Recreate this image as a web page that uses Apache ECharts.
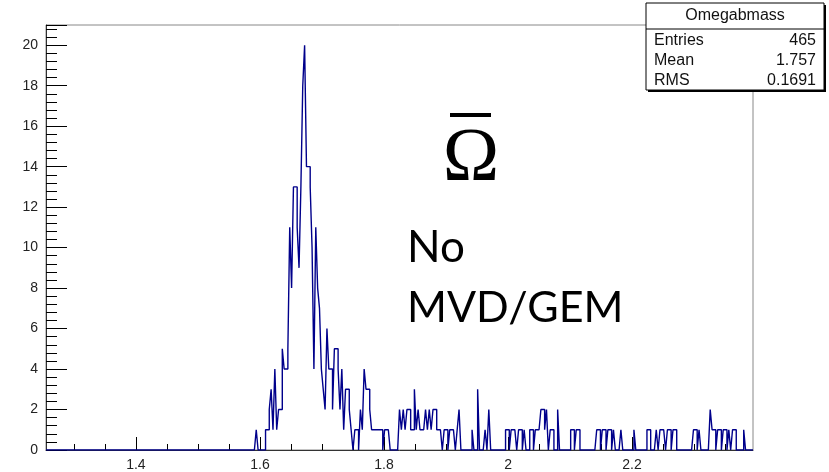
<!DOCTYPE html>
<html>
<head>
<meta charset="utf-8">
<script src="https://cdn.jsdelivr.net/npm/echarts@6/dist/echarts.min.js"></script>
<style>
  html, body { margin: 0; padding: 0; background: #fff; }
  #main { width: 829px; height: 472px; }
</style>
</head>
<body>
<div id="main"></div>
<script>
// Omegabar invariant mass histogram (bin centres in GeV, counts per bin)
var binCenters = [
  1.5955, 1.6105, 1.6135, 1.6165, 1.6195, 1.6225, 1.6255, 1.6285, 1.6315, 1.6345,
  1.6375, 1.6405, 1.6435, 1.6465, 1.6495, 1.6525, 1.6555, 1.6585, 1.6615, 1.6645,
  1.6675, 1.6705, 1.6735, 1.6765, 1.6795, 1.6825, 1.6855, 1.6885, 1.6915, 1.6945,
  1.6975, 1.7005, 1.7035, 1.7065, 1.7095, 1.7125, 1.7155, 1.7185, 1.7215, 1.7245,
  1.7275, 1.7305, 1.7335, 1.7365, 1.7395, 1.7425, 1.7455, 1.7485, 1.7545, 1.7575,
  1.7635, 1.7665, 1.7695, 1.7725, 1.7755, 1.7785, 1.7815, 1.7845, 1.7875, 1.7905,
  1.7935, 1.7965, 1.8025, 1.8055, 1.8085,
  1.8265, 1.8295, 1.8325, 1.8355, 1.8385, 1.8415, 1.8445, 1.8475, 1.8505, 1.8535,
  1.8565, 1.8595, 1.8625, 1.8655, 1.8685, 1.8715, 1.8745, 1.8775, 1.8805, 1.8835,
  1.8865, 1.8895, 1.8925, 1.8985, 1.9015, 1.9075, 1.9105, 1.9135, 1.9195, 1.9225,
  1.9435, 1.9525, 1.9645, 1.9705,
  1.9975, 2.0005, 2.0065, 2.0095, 2.0125, 2.0185, 2.0215, 2.0275,
  2.0365, 2.0395, 2.0455, 2.0485, 2.0515, 2.0545, 2.0575, 2.0605, 2.0635,
  2.0695, 2.0725, 2.0815, 2.1025, 2.1055, 2.1115, 2.1145,
  2.1445, 2.1475, 2.1535, 2.1565, 2.1625, 2.1655, 2.1715, 2.1835, 2.2045,
  2.2255, 2.2285, 2.2405, 2.2465, 2.2495, 2.2525, 2.2585, 2.2615, 2.2675, 2.2705,
  2.3005, 2.3035, 2.3095, 2.3275, 2.3305, 2.3335, 2.3395, 2.3425, 2.3485, 2.3515,
  2.3575, 2.3635, 2.3665, 2.3815
];
var binCounts = [
  1, 1, 1, 2, 3, 1, 4, 1, 2, 2,
  5, 4, 4, 5, 11, 8, 13, 13, 11, 9,
  13, 18, 20, 14, 14, 13, 10, 4, 11, 8,
  7, 4, 3, 2, 6, 4, 4, 2, 5, 5,
  4, 2, 4, 1, 3, 3, 2, 1, 1, 1,
  2, 1, 4, 3, 3, 2, 1, 1, 1, 1,
  1, 1, 1, 1, 1,
  2, 1, 2, 1, 2, 2, 1, 1, 3, 1,
  2, 1, 1, 1, 2, 1, 2, 1, 2, 2,
  1, 1, 1, 1, 1, 1, 1, 1, 1, 2,
  1, 3, 1, 2,
  1, 1, 1, 1, 1, 1, 1, 1,
  1, 1, 1, 1, 1, 2, 2, 1, 2,
  1, 1, 2, 1, 1, 1, 1,
  1, 1, 1, 1, 1, 1, 1, 1, 1,
  1, 1, 1, 1, 1, 1, 1, 1, 1, 1,
  1, 1, 1, 2, 1, 1, 1, 1, 1, 1,
  1, 1, 1, 1
];
var xLabelValues = [1.4, 1.6, 1.8, 2, 2.2];
var xMinorValues = [1.3, 1.35, 1.45, 1.5, 1.55, 1.65, 1.7, 1.75, 1.85, 1.9, 1.95,
                    2.05, 2.1, 2.15, 2.25, 2.3, 2.35];
var statTitle = 'Omegabmass';
var statNames = ['Entries', 'Mean', 'RMS'];
var statValues = ['465', '1.757', '0.1691'];

var xMin = 1.255, xMax = 2.395, binWidth = 0.003;
var nBins = Math.round((xMax - xMin) / binWidth);

// fill the bin grid, empty bins are zero
var filled = [];
for (var i = 0; i < nBins; i++) filled.push(0);
binCenters.forEach(function (c, j) {
  var k = Math.round((c - xMin) / binWidth - 0.5);
  filled[k] = binCounts[j];
});

// step outline like ROOT's histogram drawing
var outline = [[xMin, 0]];
for (var k = 0; k < nBins; k++) {
  var lo = xMin + k * binWidth;
  outline.push([lo, filled[k]], [lo + binWidth, filled[k]]);
}
outline.push([xMax, 0]);

var myChart = echarts.init(document.getElementById('main'));

var labelFont = { fontFamily: 'Liberation Sans', fontSize: 14, color: '#222' };

var statGraphics = [
  { type: 'rect', shape: { x: 648, y: 5, width: 178, height: 87 }, style: { fill: '#000' }, z: 100 },
  { type: 'rect', shape: { x: 646, y: 3, width: 178, height: 87 }, style: { fill: '#fff', stroke: '#000', lineWidth: 1 }, z: 101 },
  { type: 'line', shape: { x1: 646, y1: 29, x2: 824, y2: 29 }, style: { stroke: '#000', lineWidth: 1 }, z: 102 },
  { type: 'text', x: 735, y: 16, z: 102,
    style: { text: statTitle, fontFamily: 'Liberation Sans', fontSize: 16, fill: '#111', align: 'center', verticalAlign: 'middle' } }
];
statNames.forEach(function (name, i) {
  statGraphics.push({ type: 'text', x: 654, y: 41 + i * 20, z: 102,
    style: { text: name, fontFamily: 'Liberation Sans', fontSize: 16, fill: '#111', align: 'left', verticalAlign: 'middle' } });
  statGraphics.push({ type: 'text', x: 816, y: 41 + i * 20, z: 102,
    style: { text: statValues[i], fontFamily: 'Liberation Sans', fontSize: 16, fill: '#111', align: 'right', verticalAlign: 'middle' } });
});

var option = {
  animation: false,
  backgroundColor: '#fff',
  grid: {
    left: 46, right: 76, top: 25, bottom: 22,
    containLabel: false, outerBoundsMode: 'none',
    show: true, borderColor: '#888', borderWidth: 1
  },
  xAxis: [{
    type: 'value', min: xMin, max: xMax, position: 'bottom',
    axisLine: { show: true, onZero: false, lineStyle: { color: '#333', width: 1 } },
    axisTick: { show: true, inside: true, length: 13, customValues: xLabelValues, lineStyle: { color: '#000' } },
    axisLabel: Object.assign({ margin: 8, customValues: xLabelValues }, labelFont),
    splitLine: { show: false }
  }, {
    type: 'value', min: xMin, max: xMax, position: 'bottom',
    axisLine: { show: false },
    axisTick: { show: true, inside: true, length: 6, customValues: xMinorValues, lineStyle: { color: '#000' } },
    axisLabel: { show: false },
    splitLine: { show: false }
  }],
  yAxis: {
    type: 'value', min: 0, max: 21, interval: 2,
    axisLine: { show: true, onZero: false, lineStyle: { color: '#333', width: 1 } },
    axisTick: { show: true, inside: true, length: 21, lineStyle: { color: '#000' } },
    minorTick: { show: true, splitNumber: 5, length: 11, lineStyle: { color: '#000' } },
    axisLabel: Object.assign({ margin: 8, showMaxLabel: false }, labelFont),
    splitLine: { show: false }
  },
  series: [{
    type: 'line',
    xAxisIndex: 0,
    data: outline,
    showSymbol: false,
    symbol: 'none',
    sampling: null,
    lineStyle: { color: '#00008b', width: 1.4 },
    z: 3
  }],
  graphic: statGraphics.concat([
    { type: 'rect', shape: { x: 450, y: 113, width: 41, height: 4 }, style: { fill: '#000' }, z: 50 },
    { type: 'text', x: 471, y: 160, z: 50,
      style: { text: '\u03A9', fontFamily: 'Liberation Serif', fontSize: 76, fill: '#000', align: 'center', verticalAlign: 'middle' } },
    { type: 'text', x: 407, y: 248, z: 50,
      style: { text: 'No', fontFamily: 'Lato', fontSize: 44, fill: '#000', align: 'left', verticalAlign: 'middle' } },
    { type: 'text', x: 407, y: 308, z: 50,
      style: { text: 'MVD/GEM', fontFamily: 'Lato', fontSize: 43, fill: '#000', align: 'left', verticalAlign: 'middle' } }
  ])
};

myChart.setOption(option);
</script>
</body>
</html>
